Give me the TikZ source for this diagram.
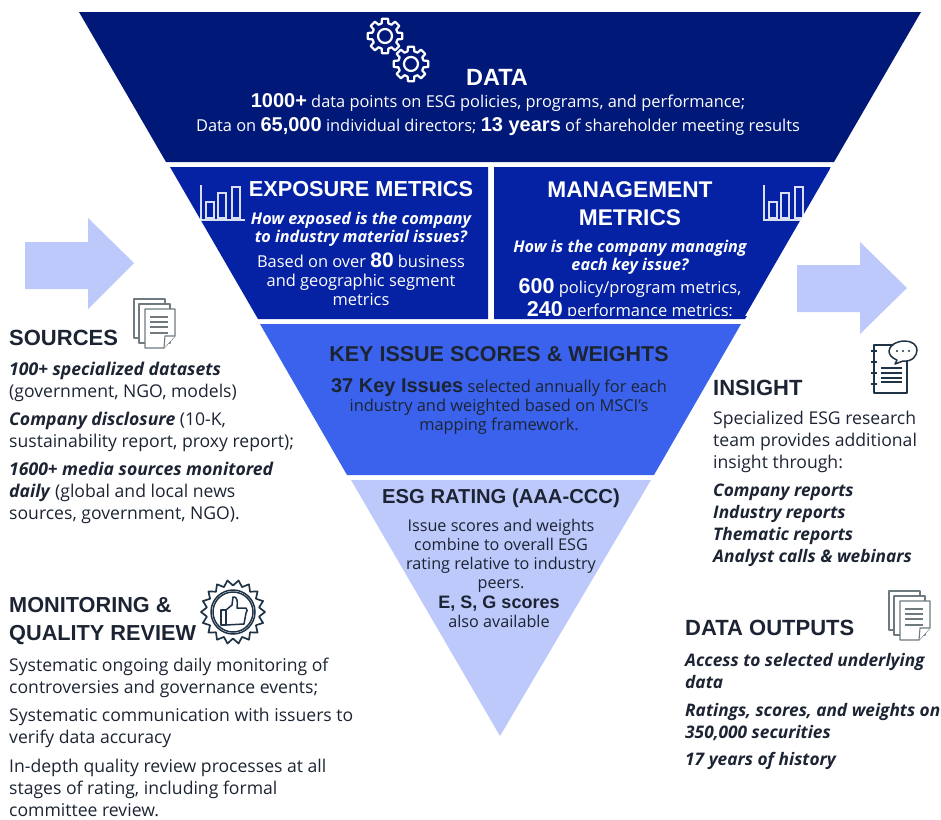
\documentclass[tikz,border=0pt]{standalone}
\usepackage{fontspec}
\setmainfont{Open Sans}
\newfontfamily\headfont{Liberation Sans}
\definecolor{navy}{HTML}{001878}
\definecolor{royal}{HTML}{0522A5}
\definecolor{bright}{HTML}{3A62EC}
\definecolor{pale}{HTML}{BCC9FA}
\definecolor{ink}{HTML}{1C2433}
\definecolor{icon}{HTML}{1F3347}
\definecolor{docgray}{HTML}{6F7A80}
\newcommand{\fs}[2]{\fontsize{#1}{#2}\selectfont}
\newcommand{\bi}[1]{\textbf{\textit{#1}}}
\tikzset{
  x=1pt,y=-1pt,
  head/.style={inner sep=0,font=\headfont\fs{22}{28}\bfseries},
  block/.style={inner sep=0,align=center,text=white,font=\fs{16.4}{19}},
  question/.style={block,font=\fs{16.2}{18}\bfseries\itshape},
  side/.style={inner sep=0,anchor=west,align=left,text=ink,font=\fs{17.6}{22}},
  sidebold/.style={side,font=\fs{17.3}{22}\bfseries\itshape},
  bigarrow/.style={fill=pale,draw=none},
  iconline/.style={draw=icon,line width=1.5pt,line join=round},
  docline/.style={draw=docgray,line width=1.1pt,fill=white,line join=round},
  barline/.style={draw=white,line width=1.2pt,opacity=.85},
  gear/.pic={
    \draw[white,line width=2.2pt,line join=round] (-15:13)
      \foreach \a in {0,45,...,315} {-- (\a-15:13) -- (\a-10:17.5) -- (\a+10:17.5) -- (\a+15:13)} -- cycle;
    \draw[white,line width=2.2pt] (0,0) circle (7);
  },
  barchart/.pic={
    \draw[barline] (0,0) -- (0,35) -- (44,35);
    \draw[barline] (5,17) rectangle (13,33);
    \draw[barline] (17,8) rectangle (25,33);
    \draw[barline] (31,2) rectangle (39,33);
  },
  docs/.pic={
    \draw[docline] (0,0) rectangle (31,39);
    \draw[docline] (5,5) rectangle (36,44);
    \draw[docline] (11,10) -- (41,10) -- (41,37) -- (30,49) -- (11,49) -- cycle;
    \draw[docline] (41,37) -- (31,37) -- (30,49);
    \foreach \y in {18,23,28,34} \draw[draw=docgray,line width=1.1pt] (16,\y) -- (34,\y);
  },
}
\begin{document}
\begin{tikzpicture}
\useasboundingbox (0,0) rectangle (941,819);
% pyramid bands
\fill[navy] (79,12) -- (921,12) -- (834,162) -- (166,162) -- cycle;
\begin{scope}
  \clip (494,167) -- (831,167) -- (745,316) -- (494,316) -- cycle;
  \fill[royal] (494,167) rectangle (831,319);
  \node[block,font=\fs{16.5}{23}] (mgmtnums) at (630,299) {{\fs{21.5}{23}\bfseries\headfont 600} policy/program metrics,\\{\fs{21.5}{23}\bfseries\headfont 240} performance metrics;};
\end{scope}
\fill[royal] (494,316) -- (747,316) -- (745,319) -- (494,319) -- cycle;
\fill[royal] (170,167) -- (488,167) -- (488,319) -- (258,319) -- cycle;
\fill[bright] (260,324) -- (741,324) -- (654,475) -- (347,475) -- cycle;
\fill[pale] (351,480) -- (651,480) -- (500,736) -- cycle;
% arrows
\fill[bigarrow] (25,242) -- (88,242) -- (88,218) -- (134,263) -- (88,309) -- (88,289) -- (25,289) -- cycle;
\fill[bigarrow] (797,265) -- (860,265) -- (860,242) -- (907,288) -- (860,334) -- (860,312) -- (797,312) -- cycle;
% icons
\pic at (385,36) {gear};
\begin{scope}[scale=.92]\pic at (446.7,69.5) {gear};\end{scope}
\pic at (201,185) {barchart};
\pic at (764,185) {barchart};
\pic at (134,299) {docs};
\pic at (889,591) {docs};
% badge
\begin{scope}[shift={(233,612)}]
  \draw[iconline,line width=1.7pt] (0:32)
    \foreach \a in {0,20,...,340} {-- (\a:32) -- (\a+10:26.5)} -- cycle;
  \draw[iconline] (0,0) circle (22);
  \draw[iconline] (0,0) circle (20);
  \draw[iconline] (-12,-2) rectangle (-7,13);
  \draw[iconline] (-7,-2) -- (-1,-7) -- (0,-15) .. controls (4,-16) and (5,-11) .. (4,-4) -- (13,-4) .. controls (15,-3) and (14,0) .. (13,1) -- (11,12) -- (-7,13);
\end{scope}
% notebook
\draw[iconline] (874,345) rectangle (907,393);
\foreach \y in {351,362,373,384} \draw[iconline] (871,\y) -- (877,\y);
\foreach \y in {368,373,378,382} \draw[iconline] (881,\y) -- (902,\y);
\draw[iconline,fill=white] (905,341) .. controls (896,341) and (889,346) .. (889,351) .. controls (889,355) and (892,358) .. (897,360) -- (895,364) -- (903,361) .. controls (912,362) and (917,356) .. (917,350) .. controls (917,345) and (912,341) .. (905,341) -- cycle;
\foreach \x in {897,903,909} \fill[icon] (\x,351) circle (1.1);
% pyramid text
\node[head,text=white,font=\headfont\fs{23.5}{28}\bfseries] (datahead) at (497,77) {DATA};
\node[block,font=\fs{16.4}{24}] (databody) at (498,114.5) {{\headfont\fs{20}{24}\bfseries 1000+} data points on ESG policies, programs, and performance;\\Data on {\headfont\fs{20}{24}\bfseries 65,000} individual directors; {\headfont\fs{20}{24}\bfseries 13 years} of shareholder meeting results};
\node[head,text=white,font=\headfont\fs{21.7}{28}\bfseries] (exphead) at (361,189.5) {EXPOSURE METRICS};
\node[question] (expq) at (361,229.5) {How exposed is the company\\to industry material issues?};
\node[block] (expbody) at (361,279) {Based on over {\headfont\fs{21}{19}\bfseries 80} business\\and geographic segment\\metrics};
\node[head,text=white,align=center,font=\headfont\fs{22.7}{28}\bfseries] (mgmthead) at (630,204) {MANAGEMENT\\METRICS};
\node[question] (mgmtq) at (630,257.5) {How is the company managing\\each key issue?};
\node[head,text=ink,font=\headfont\fs{21.5}{24}\bfseries] (keyhead) at (499,354) {KEY ISSUE SCORES \& WEIGHTS};
\node[block,text=ink] (keybody) at (499,406) {{\headfont\fs{20}{19}\bfseries 37 Key Issues} selected annually for each\\industry and weighted based on MSCI’s\\mapping framework.};
\node[head,text=ink,font=\headfont\fs{20.2}{24}\bfseries] (esghead) at (501,498.5) {ESG RATING (AAA-CCC)};
\node[block,text=ink,font=\fs{16.2}{19}] (esgbody) at (501,555.5) {Issue scores and weights\\combine to overall ESG\\rating relative to industry\\peers.};
\node[block,text=ink,font=\fs{16.2}{19}] (esgsub) at (499,612) {{\headfont\fs{18}{19}\bfseries E, S, G scores}\\also available};
% left column
\node[head,anchor=west,text=ink] (srchead) at (9,338) {SOURCES};
\node[side] (src1) at (9,382) {\bi{100+ specialized datasets}\\(government, NGO, models)};
\node[side] (src2) at (9,432) {\bi{Company disclosure} (10-K,\\sustainability report, proxy report);};
\node[side] (src3) at (9,493) {\bi{1600+ media sources monitored}\\\bi{daily} (global and local news\\sources, government, NGO).};
\node[head,anchor=west,align=left,text=ink,font=\headfont\fs{21.7}{28}\bfseries] (monhead) at (9,621.5) {MONITORING \&\\QUALITY REVIEW};
\node[side] (mon1) at (9,678) {Systematic ongoing daily monitoring of\\controversies and governance events;};
\node[side] (mon2) at (9,728) {Systematic communication with issuers to\\verify data accuracy};
\node[side] (mon3) at (9,787.5) {In-depth quality review processes at all\\stages of rating, including formal\\committee review.};
% right column
\node[head,anchor=west,text=ink] (inshead) at (713,388) {INSIGHT};
\node[side] (ins1) at (713,442) {Specialized ESG research\\team provides additional\\insight through:};
\node[sidebold] (ins2) at (713,525) {Company reports\\Industry reports\\Thematic reports\\Analyst calls \& webinars};
\node[head,anchor=west,text=ink] (outhead) at (685,628) {DATA OUTPUTS};
\node[sidebold] (out1) at (685,671) {Access to selected underlying\\data};
\node[sidebold] (out2) at (685,722) {Ratings, scores, and weights on\\350,000 securities};
\node[sidebold] (out3) at (685,761) {17 years of history};
\end{tikzpicture}
\end{document}
